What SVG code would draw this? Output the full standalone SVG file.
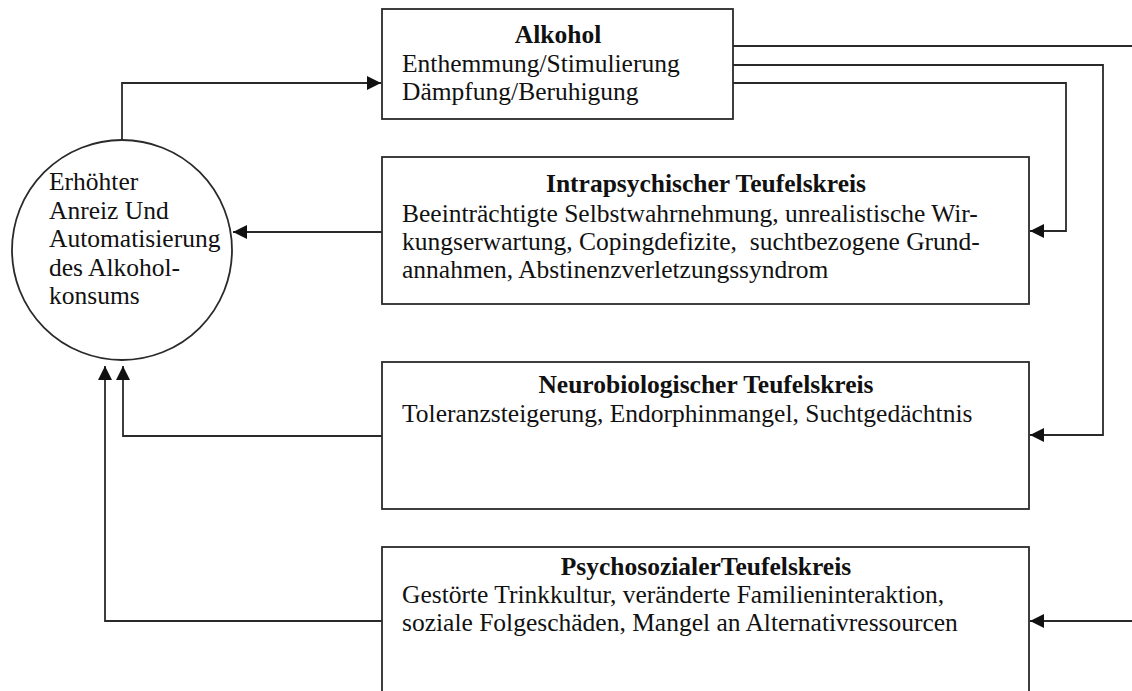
<svg xmlns="http://www.w3.org/2000/svg" width="1132" height="691" viewBox="0 0 1132 691">
<style>
  .box { fill: #fff; stroke: #2a2a2a; stroke-width: 1.8; }
  .t { font-family: "Liberation Serif", "Times New Roman", serif; font-size: 25.5px; fill: #111; }
  .b { font-weight: bold; text-anchor: middle; }
  .c { fill: none; stroke: #2a2a2a; stroke-width: 1.8; }
</style>
<defs>
  <marker id="ah" markerUnits="userSpaceOnUse" markerWidth="15" markerHeight="15" refX="14" refY="7" orient="auto">
    <path d="M0,0 L14,7 L0,14 z" fill="#111"/>
  </marker>
</defs>
<rect width="1132" height="691" fill="#fff"/>

<g id="connectors">
  <path class="c" d="M122,140 V83 H381" marker-end="url(#ah)"/>
  <path class="c" d="M733,46 H1132"/>
  <path class="c" d="M733,65 H1103 V435 H1030" marker-end="url(#ah)"/>
  <path class="c" d="M733,83 H1066 V231 H1030" marker-end="url(#ah)"/>
  <path class="c" d="M382,232 H233" marker-end="url(#ah)"/>
  <path class="c" d="M382,436 H123 V366" marker-end="url(#ah)"/>
  <path class="c" d="M382,621 H105 V366" marker-end="url(#ah)"/>
  <path class="c" d="M1132,621 H1030" marker-end="url(#ah)"/>
</g>

<g id="node-anreiz">
  <circle class="box" cx="122" cy="250" r="110"/>
  <text class="t" x="49" y="190">Erhöhter</text>
  <text class="t" x="49" y="219">Anreiz Und</text>
  <text class="t" x="49" y="247">Automatisierung</text>
  <text class="t" x="49" y="276">des Alkohol-</text>
  <text class="t" x="49" y="304">konsums</text>
</g>

<g id="node-alkohol">
  <rect class="box" x="382" y="9" width="351" height="110"/>
  <text class="t b" x="558" y="43">Alkohol</text>
  <text class="t" x="402" y="72">Enthemmung/Stimulierung</text>
  <text class="t" x="402" y="100">Dämpfung/Beruhigung</text>
</g>

<g id="node-intrapsychisch">
  <rect class="box" x="382" y="157" width="647" height="147"/>
  <text class="t b" x="706" y="192">Intrapsychischer Teufelskreis</text>
  <text class="t" x="402" y="222">Beeinträchtigte Selbstwahrnehmung, unrealistische Wir-</text>
  <text class="t" x="402" y="250" xml:space="preserve">kungserwartung, Copingdefizite,  suchtbezogene Grund-</text>
  <text class="t" x="402" y="278">annahmen, Abstinenzverletzungssyndrom</text>
</g>

<g id="node-neurobiologisch">
  <rect class="box" x="382" y="362" width="647" height="147"/>
  <text class="t b" x="706" y="393">Neurobiologischer Teufelskreis</text>
  <text class="t" x="402" y="422">Toleranzsteigerung, Endorphinmangel, Suchtgedächtnis</text>
</g>

<g id="node-psychosozial">
  <rect class="box" x="382" y="547" width="647" height="170"/>
  <text class="t b" x="706" y="575">PsychosozialerTeufelskreis</text>
  <text class="t" x="402" y="603">Gestörte Trinkkultur, veränderte Familieninteraktion,</text>
  <text class="t" x="402" y="631">soziale Folgeschäden, Mangel an Alternativressourcen</text>
</g>
</svg>
